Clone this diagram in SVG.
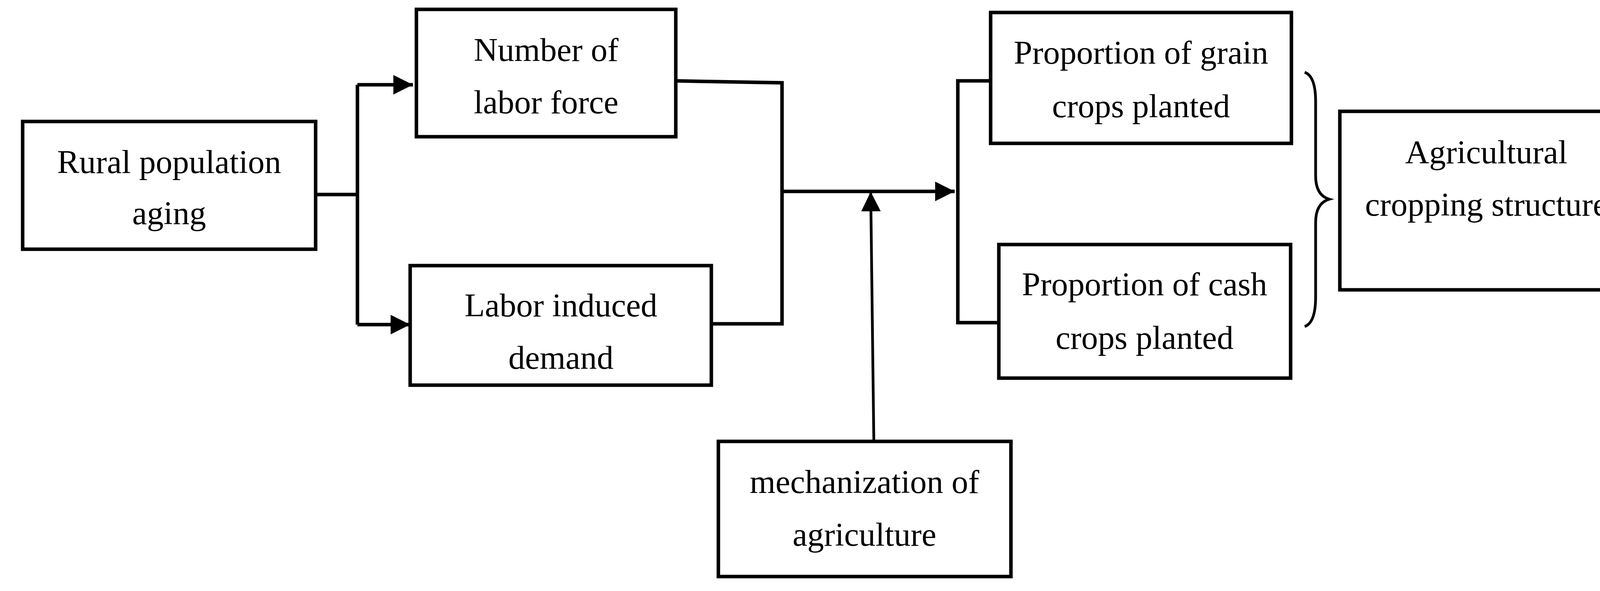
<svg xmlns="http://www.w3.org/2000/svg" width="4222" height="1513" viewBox="0 0 4222 1513">
<style>
rect{fill:#fff;stroke:#000;stroke-width:9}
text{font-family:"Liberation Serif",serif;font-size:85px;text-anchor:middle;fill:#000}
.c{fill:none;stroke:#000;stroke-width:9}
.t{fill:none;stroke:#000;stroke-width:7}
</style>
<defs><marker id="a" markerUnits="userSpaceOnUse" markerWidth="60" markerHeight="60" refX="50" refY="25" orient="auto"><path d="M0,0L50,25L0,50Z" fill="#000"/></marker></defs>
<rect width="4222" height="1513" style="stroke:none"/>
<g id="connectors">
<path class="c" d="M808,498H915"/>
<path class="c" d="M915,217V831"/>
<path class="c" d="M915,217H1057" marker-end="url(#a)"/>
<path class="c" d="M915,831H1050" marker-end="url(#a)"/>
<path class="c" d="M1730,207L2002,212V829H1821"/>
<path class="c" d="M2002,490H2444" marker-end="url(#a)"/>
<path class="t" d="M2237,1128L2229,491" marker-end="url(#a)"/>
<path class="c" d="M2536,207H2452V826H2557"/>
<path class="t" d="M3340,185Q3368,195 3368,260V450Q3368,500 3403,510Q3368,520 3368,570V760Q3368,826 3340,836"/>
</g>
<g id="rural"><rect x="58" y="311" width="750" height="327"/><text x="433" y="443">Rural population</text><text x="433" y="574">aging</text></g>
<g id="number"><rect x="1066" y="24" width="664" height="326"/><text x="1398" y="156">Number of</text><text x="1398" y="290">labor force</text></g>
<g id="labor"><rect x="1050" y="680" width="771" height="306"/><text x="1436" y="810">Labor induced</text><text x="1436" y="944">demand</text></g>
<g id="mech"><rect x="1839" y="1130" width="749" height="346"/><text x="2213" y="1262">mechanization of</text><text x="2213" y="1397">agriculture</text></g>
<g id="grain"><rect x="2536" y="32" width="770" height="335"/><text x="2921" y="163">Proportion of grain</text><text x="2921" y="300">crops planted</text></g>
<g id="cash"><rect x="2557" y="626" width="747" height="342"/><text x="2930" y="756">Proportion of cash</text><text x="2930" y="893">crops planted</text></g>
<g id="agri"><rect x="3430" y="285" width="750" height="457"/><text x="3805" y="418">Agricultural</text><text x="3805" y="552">cropping structure</text></g>
</svg>
